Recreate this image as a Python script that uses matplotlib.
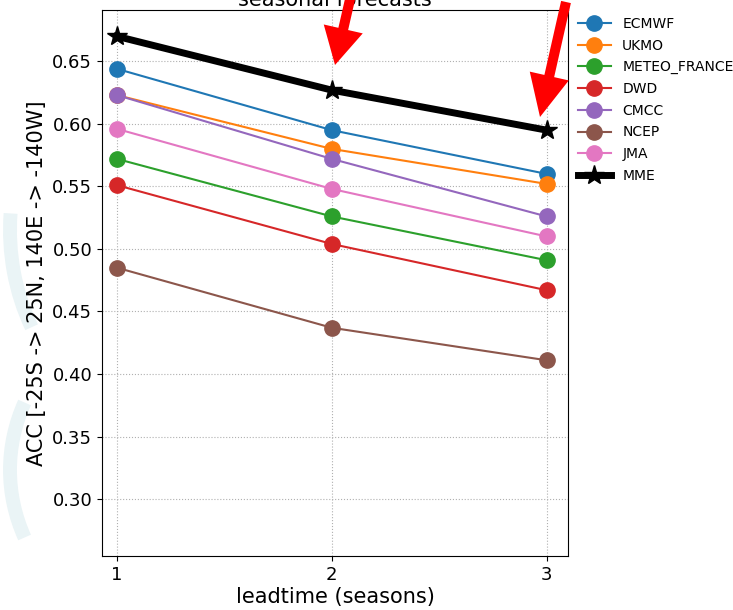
import matplotlib
matplotlib.use("Agg")
import matplotlib.pyplot as plt
from matplotlib.patches import FancyArrow, Arc

leadtimes = [1, 2, 3]
models = ["ECMWF", "UKMO", "METEO_FRANCE", "DWD", "CMCC", "NCEP", "JMA"]
colors = ["#1f77b4", "#ff7f0e", "#2ca02c", "#d62728", "#9467bd", "#8c564b", "#e377c2"]
ecmwf = [0.644, 0.595, 0.560]
ukmo = [0.623, 0.580, 0.552]
meteo_france = [0.572, 0.526, 0.491]
dwd = [0.551, 0.504, 0.467]
cmcc = [0.623, 0.572, 0.526]
ncep = [0.485, 0.437, 0.411]
jma = [0.596, 0.548, 0.510]
mme = [0.670, 0.627, 0.595]
series = [ecmwf, ukmo, meteo_france, dwd, cmcc, ncep, jma]
yticks = [0.30, 0.35, 0.40, 0.45, 0.50, 0.55, 0.60, 0.65]

fig = plt.figure(figsize=(7.33, 6.10), dpi=100)

# faint background swooshes
bg = fig.add_axes([0, 0, 1, 1], zorder=-5)
bg.set_xlim(0, 733); bg.set_ylim(610, 0); bg.axis("off")
for cx, cy, w, h, t1, t2 in [(200, 230, 380, 420, 150, 185), (210, 470, 400, 360, 160, 200)]:
    bg.add_patch(Arc((cx, cy), w, h, theta1=t1, theta2=t2, color="#eaf4f6", lw=10))

ax = fig.add_axes([0.139, 0.0885, 0.636, 0.895])
for name, c, vals in zip(models, colors, series):
    ax.plot(leadtimes, vals, "-o", color=c, lw=1.5, ms=11, label=name)
ax.plot(leadtimes, mme, "-*", color="black", lw=5, ms=15, label="MME")

ax.set_xlim(0.93, 3.1)
ax.set_ylim(0.2545, 0.691)
ax.set_xticks(leadtimes)
ax.set_yticks(yticks)
ax.set_yticklabels([f"{v:.2f}" for v in yticks])
ax.tick_params(labelsize=13)
ax.grid(True, linestyle=":", color="#b0b0b0", lw=0.8)
ax.set_xlabel("leadtime (seasons)", fontsize=15, labelpad=2)
ax.set_ylabel("ACC [-25S -> 25N, 140E -> -140W]", fontsize=15)
ax.set_title("seasonal forecasts", fontsize=15, pad=2)
leg = ax.legend(loc="upper left", bbox_to_anchor=(1.0, 1.005), frameon=False, fontsize=10,
                handlelength=2.4, labelspacing=0.55, borderaxespad=0.3)

# red arrows overlay
ov = fig.add_axes([0, 0, 1, 1], zorder=10)
ov.set_xlim(0, 733); ov.set_ylim(610, 0); ov.axis("off")
ov.add_patch(FancyArrow(351, -5, -16, 70, width=10, head_width=40, head_length=37,
                        length_includes_head=True, color="#ff0000", lw=0))
ov.add_patch(FancyArrow(566, 2, -26, 115, width=10, head_width=40, head_length=42,
                        length_includes_head=True, color="#ff0000", lw=0))

fig.savefig("out.png", dpi=100)
